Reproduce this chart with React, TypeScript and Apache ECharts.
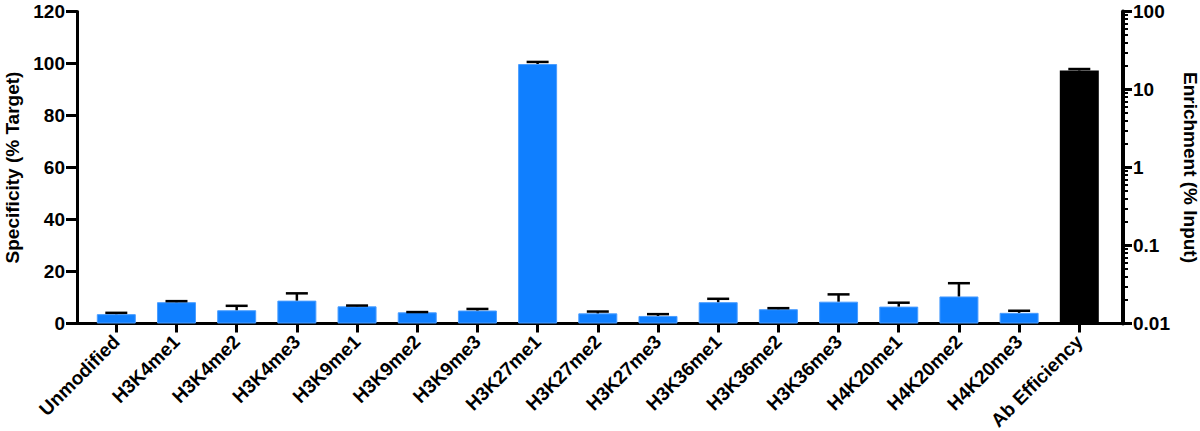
import { useEffect, useRef } from 'react';
import * as echarts from 'echarts';

const categories = [
  'Unmodified', 'H3K4me1', 'H3K4me2', 'H3K4me3', 'H3K9me1', 'H3K9me2', 'H3K9me3',
  'H3K27me1', 'H3K27me2', 'H3K27me3', 'H3K36me1', 'H3K36me2', 'H3K36me3',
  'H4K20me1', 'H4K20me2', 'H4K20me3', 'Ab Efficiency',
];

// Specificity (% Target), one per histone peptide
const specificity = [3.6, 8.2, 5.1, 8.8, 6.6, 4.3, 5.0, 99.8, 3.9, 2.9, 8.2, 5.5, 8.4, 6.5, 10.4, 4.1];
const specificityErr = [0.5, 0.4, 1.7, 2.8, 0.3, 0.1, 0.6, 0.8, 0.7, 0.7, 1.3, 0.4, 2.8, 1.5, 5.1, 0.8];

// Enrichment (% Input), Ab Efficiency only
const enrichment = [17.5];
const enrichmentErr = [0.8];

const leftTicks = [0, 20, 40, 60, 80, 100, 120];
const rightTicks = [0.01, 0.1, 1, 10, 100];
const rightMinorTicks = rightTicks
  .slice(0, -1)
  .flatMap((d) => [2, 3, 4, 5, 6, 7, 8, 9].map((k) => +(k * d).toPrecision(3)));

const FONT = '"Liberation Sans", Arial, Helvetica, sans-serif';
const BLUE = '#0f7fff';

const labelStyle = {
  color: '#000',
  fontFamily: FONT,
  fontWeight: 'bold' as const,
  fontSize: 19,
};

const axisLine = (width: number) => ({
  show: true,
  onZero: false,
  lineStyle: { color: '#000', width },
});

export default function App() {
  const chartRef = useRef<HTMLDivElement | null>(null);

  useEffect(() => {
    const element = chartRef.current;
    if (!element) return;

    const chart = echarts.init(element, undefined, { renderer: 'svg' });
    const idx = categories.map((_, i) => i);
    const last = categories.length - 1;

    const errorBar = (params: any, api: any) => {
      const x = api.value(0);
      const v = api.value(1);
      const e = api.value(2);
      const base = api.coord([x, v]);
      const top = api.coord([x, v + e]);
      const half = 11;
      const style = { stroke: '#000', lineWidth: 2.5 };
      return {
        type: 'group',
        children: [
          { type: 'line', shape: { x1: base[0], y1: base[1], x2: top[0], y2: top[1] }, style },
          { type: 'line', shape: { x1: top[0] - half, y1: top[1], x2: top[0] + half, y2: top[1] }, style },
        ],
      };
    };

    chart.setOption({
      animation: false,
      backgroundColor: '#fff',
      grid: {
        left: 77,
        right: 77,
        top: 11.5,
        bottom: 107.5,
        containLabel: false,
        outerBoundsMode: 'none',
      },
      xAxis: {
        type: 'value',
        min: -0.653,
        max: last + 0.726,
        splitLine: { show: false },
        axisLine: axisLine(3),
        axisTick: {
          show: true,
          customValues: idx,
          length: 9,
          lineStyle: { color: '#000', width: 3 },
        },
        axisLabel: {
          ...labelStyle,
          customValues: idx,
          rotate: 45,
          margin: 15,
          formatter: (v: number) => categories[Math.round(v)] ?? '',
        },
      },
      yAxis: [
        {
          type: 'value',
          min: leftTicks[0],
          max: leftTicks[leftTicks.length - 1],
          interval: 20,
          position: 'left',
          splitLine: { show: false },
          axisLine: axisLine(3),
          axisTick: { show: true, length: 11, lineStyle: { color: '#000', width: 3 } },
          axisLabel: { ...labelStyle, margin: 12 },
          name: 'Specificity (% Target)',
          nameLocation: 'middle',
          nameGap: 51,
          nameTextStyle: { ...labelStyle, fontSize: 19 },
        },
        {
          type: 'log',
          logBase: 10,
          min: rightTicks[0],
          max: rightTicks[rightTicks.length - 1],
          startValue: rightTicks[0],
          position: 'right',
          splitLine: { show: false },
          axisLine: axisLine(4),
          axisTick: {
            show: true,
            customValues: rightTicks,
            length: 9,
            lineStyle: { color: '#000', width: 3 },
          },
          axisLabel: {
            ...labelStyle,
            customValues: rightTicks,
            margin: 10,
            formatter: (v: number) => String(v),
          },
          name: 'Enrichment (% Input)',
          nameLocation: 'middle',
          nameRotate: -90,
          nameGap: 50,
          nameTextStyle: { ...labelStyle, fontSize: 19 },
        },
        {
          type: 'log',
          logBase: 10,
          min: rightTicks[0],
          max: rightTicks[rightTicks.length - 1],
          position: 'right',
          splitLine: { show: false },
          axisLine: { show: false, onZero: false },
          axisTick: {
            show: true,
            customValues: rightMinorTicks,
            length: 5,
            lineStyle: { color: '#000', width: 2 },
          },
          axisLabel: { show: false },
        },
      ],
      series: [
        {
          type: 'bar',
          yAxisIndex: 0,
          barWidth: 39,
          barGap: '-100%',
          itemStyle: { color: BLUE, borderColor: '#4a9dff', borderWidth: 1 },
          data: specificity.map((v, i) => [i, v]),
        },
        {
          type: 'bar',
          yAxisIndex: 1,
          barWidth: 39,
          barGap: '-100%',
          itemStyle: { color: '#000' },
          data: enrichment.map((v, i) => [specificity.length + i, v]),
        },
        {
          type: 'custom',
          yAxisIndex: 0,
          z: 5,
          renderItem: errorBar,
          encode: { x: 0, y: 1 },
          data: specificity.map((v, i) => [i, v, specificityErr[i]]),
        },
        {
          type: 'custom',
          yAxisIndex: 1,
          z: 5,
          renderItem: errorBar,
          encode: { x: 0, y: 1 },
          data: enrichment.map((v, i) => [specificity.length + i, v, enrichmentErr[i]]),
        },
      ],
    });

    return () => {
      chart.dispose();
    };
  }, []);

  return (
    <div
      ref={chartRef}
      style={{ position: 'absolute', left: 0, top: 0, width: 1200, height: 431 }}
    />
  );
}
